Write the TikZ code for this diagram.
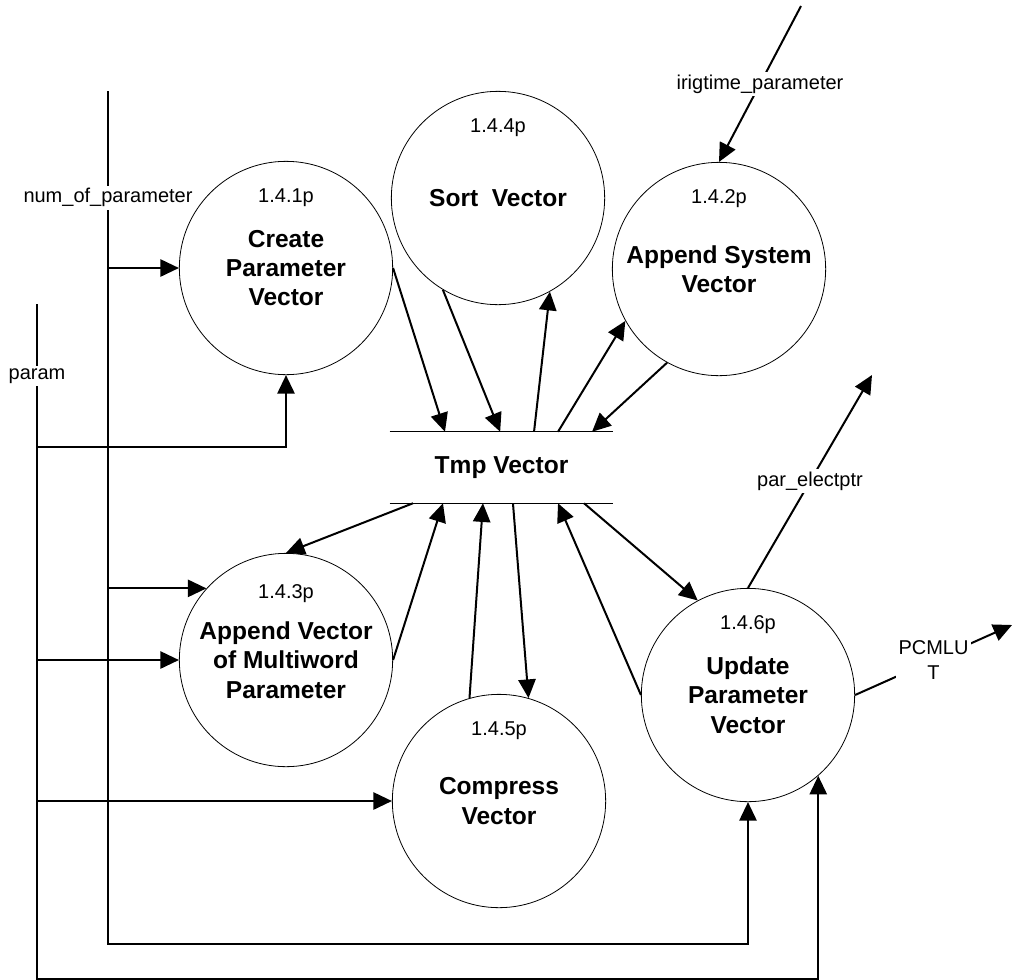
\documentclass[tikz,border=0pt]{standalone}
\usepackage{fontspec}
\setmainfont{Liberation Sans}
\usetikzlibrary{arrows.meta}

\begin{document}
\begin{tikzpicture}[x=0.75pt,y=-0.75pt,
    proc/.style={circle,draw,line width=0.6pt,minimum size=160pt,inner sep=0pt,align=center,font=\bfseries\fontsize{18.4}{22}\selectfont},
    pnum/.style={font=\fontsize{15}{18}\selectfont},
    flow/.style={-{Triangle[length=14pt,width=13pt]},line width=1.5pt},
    lbl/.style={fill=white,inner sep=2pt,align=center,font=\fontsize{15}{18.75}\selectfont}]
    \useasboundingbox (0,0) rectangle (1013,979);

    % processes
    \node[proc] (c141) at (286,268) {Create\\Parameter\\Vector};
    \node[proc] (c144) at (498,198) {Sort~ Vector};
    \node[proc] (c142) at (719,269) {Append System\\Vector};
    \node[proc] (c143) at (286,660) {Append Vector\\of Multiword\\Parameter};
    \node[proc] (c145) at (499,801) {Compress\\Vector};
    \node[proc] (c146) at (748,695) {Update\\Parameter\\Vector};

    \node[pnum] at ([yshift=53pt]c141.center) {1.4.1p};
    \node[pnum] at ([yshift=53pt]c144.center) {1.4.4p};
    \node[pnum] at ([yshift=53pt]c142.center) {1.4.2p};
    \node[pnum] at ([yshift=49.5pt]c143.center) {1.4.3p};
    \node[pnum] at ([yshift=53pt]c145.center) {1.4.5p};
    \node[pnum] at ([yshift=53pt]c146.center) {1.4.6p};

    % data store
    \node[minimum width=167.25pt,minimum height=53.25pt,inner sep=0pt,font=\bfseries\fontsize{18.4}{22}\selectfont] (tmp) at (501.5,467.5) {Tmp Vector};
    \draw[line width=0.6pt] (tmp.north west) -- (tmp.north east);
    \draw[line width=0.6pt] (tmp.south west) -- (tmp.south east);

    % inputs on the left
    \coordinate (ntop) at (108,91);
    \coordinate (nbot) at (108,944);
    \draw[flow] (ntop) -- node[lbl,pos=0.125]{num\_of\_parameter} (nbot) -| (c146.south);
    \draw[flow] (c141.west -| ntop) -- (c141.west);
    \draw[flow] (c143.138 -| ntop) -- (c143.138);

    \coordinate (ptop) at (37,304);
    \coordinate (pbot) at (37,979.4);
    \coordinate (pj) at (37,447);
    \draw[flow] (ptop) -- node[lbl,pos=0.107]{param} (pbot) -| (c146.311);
    \draw[flow] (pj) -| (c141.south);
    \draw[flow] (c143.west -| ptop) -- (c143.west);
    \draw[flow] (c145.west -| ptop) -- (c145.west);

    % flows to and from the store
    \draw[flow] (c141.east) -- ([xshift=-42.4pt]tmp.north);
    \draw[flow] (c144.239) -- ([xshift=-1pt]tmp.north);
    \draw[flow] ([xshift=24.4pt]tmp.north) -- (c144.299);
    \draw[flow] ([xshift=42.4pt]tmp.north) -- (c142.209);
    \draw[flow] (c142.241) -- ([xshift=67.9pt]tmp.north);
    \draw[flow] ([xshift=-66.4pt]tmp.south) -- (c143.north);
    \draw[flow] (c143.east) -- ([xshift=-43.9pt]tmp.south);
    \draw[flow] (c145.106) -- ([xshift=-13.9pt]tmp.south);
    \draw[flow] ([xshift=8.6pt]tmp.south) -- (c145.74);
    \draw[flow] (c146.west) -- ([xshift=42.4pt]tmp.south);
    \draw[flow] ([xshift=61.9pt]tmp.south) -- (c146.118);

    % outside flows
    \coordinate (irig) at (801,6);
    \draw[flow] (irig) -- node[lbl]{irigtime\_parameter} (c142.north);
    \coordinate (pel) at (872,375);
    \draw[flow] (c146.north) -- node[lbl]{par\_electptr} (pel);
    \coordinate (pcm) at (1012,625);
    \draw[flow] (c146.east) -- node[lbl]{PCMLU\\T} (pcm);
\end{tikzpicture}
\end{document}
